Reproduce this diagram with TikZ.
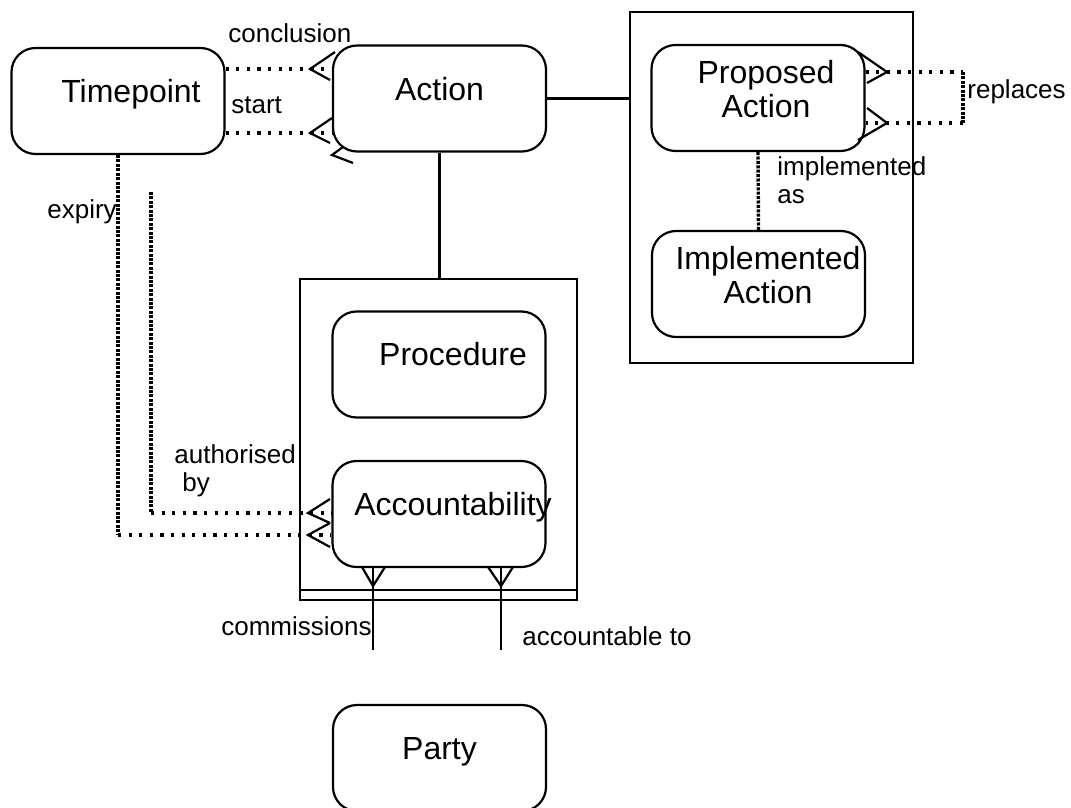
\documentclass[tikz,border=0pt]{standalone}
\usepackage{fontspec}
\setmainfont{Liberation Sans}
\usepackage{tikz}

\begin{document}
\begin{tikzpicture}[x=0.5pt,y=-0.5pt,
    ent/.style={rounded corners=12pt, draw, line width=1.1pt, minimum width=106.5pt, minimum height=53pt, inner sep=0pt},
    txt/.style={font=\fontsize{16}{17}\selectfont, align=center, inner sep=0pt},
    lbl/.style={font=\fontsize{13}{14}\selectfont, align=left, inner sep=0pt},
    grp/.style={draw, line width=1.1pt, inner sep=0pt},
    rel/.style={line width=1.1pt},
    foot/.style={line width=1.1pt, line join=miter},
    dotsh/.style={line width=1.6pt, dash pattern=on 1.6pt off 3.7pt},
    dotsv/.style={line width=1.7pt, dash pattern=on 1.5pt off 0.7pt}]
    \useasboundingbox (0,0) rectangle (1071,808);

    % groups
    \node[grp, minimum width=141.5pt, minimum height=175.5pt] (grpa) at (771.5,187.5) {};
    \node[grp, minimum width=138.5pt, minimum height=160.5pt] (grpb) at (438.5,439.5) {};
    \draw[rel] ([yshift=5.5pt]grpb.south west) -- ([yshift=5.5pt]grpb.south east);

    % entities
    \node[ent, label={[txt, xshift=6.5pt, yshift=3.5pt]center:Timepoint}] (tp) at (118,101) {};
    \node[ent, label={[txt, yshift=4.5pt]center:Action}] (act) at (439.5,98.5) {};
    \node[ent, label={[txt, xshift=4pt, yshift=4.25pt]center:Proposed\\Action}] (prop) at (758,98) {};
    \node[ent, label={[txt, xshift=4.75pt, yshift=4.5pt]center:Implemented\\Action}] (impl) at (758.5,284) {};
    \node[ent, label={[txt, xshift=7pt, yshift=5pt]center:Procedure}] (proc) at (439,364.5) {};
    \node[ent, label={[txt, xshift=7pt, yshift=3.5pt]center:Accountability}] (acc) at (439,514) {};
    \node[ent, label={[txt, yshift=3pt]center:Party}] (party) at (439.5,758) {};

    % plain links
    \draw[rel] (act.east) -- (act.east -| grpa.west);
    \draw[rel] (act.south) -- (act.south |- grpb.north);
    \draw[dotsv] (prop.south) -- (impl.north);

    % conclusion and start
    \coordinate (cfcon) at (310,69);
    \coordinate (cfsta) at (310,133);
    \draw[dotsh] (tp.east |- cfcon) -- (act.west |- cfcon);
    \draw[dotsh] (tp.east |- cfsta) -- (act.west |- cfsta);
    \draw[foot] (cfcon) ++(25,-17) -- (cfcon) -- ++(20,11);
    \draw[foot] (cfsta) ++(22,-15) -- (cfsta) -- ++(20,10);
    \coordinate (cfodd) at (332,155);
    \draw[foot] (cfodd) ++(11,-8) -- (cfodd) -- ++(21,8);

    % replaces
    \coordinate (cfrepa) at (887,72);
    \coordinate (cfrepb) at (887,123);
    \coordinate (repx) at (963,0);
    \draw[dotsh] (prop.east |- cfrepa) -- (cfrepa -| repx);
    \draw[dotsv] (cfrepa -| repx) -- (cfrepb -| repx);
    \draw[dotsh] (cfrepb -| repx) -- (prop.east |- cfrepb);
    \draw[foot] (cfrepa) ++(-29,-20) -- (cfrepa) -- ++(-20,11);
    \draw[foot] (cfrepb) ++(-20,-15) -- (cfrepb) -- ++(-29,17);

    % expiry and authorised by
    \coordinate (cfauth) at (308,513);
    \coordinate (cfexp) at (308,535);
    \coordinate (authtop) at (151,192);
    \draw[dotsv] (tp.south) -- (tp.south |- cfexp);
    \draw[dotsh] (tp.south |- cfexp) -- (acc.west |- cfexp);
    \draw[dotsv] (authtop) -- (authtop |- cfauth);
    \draw[dotsh] (authtop |- cfauth) -- (acc.west |- cfauth);
    \draw[foot] (cfauth) ++(22,-14) -- (cfauth) -- ++(22,10);
    \draw[foot] (cfexp) ++(22,-12) -- (cfexp) -- ++(22,12);

    % commissions and accountable to
    \coordinate (comend) at (373,650);
    \coordinate (accend) at (501,650);
    \coordinate (cfcom) at (373,586);
    \coordinate (cfacc) at (501,586);
    \draw[rel] (acc.south -| comend) -- (comend);
    \draw[rel] (acc.south -| accend) -- (accend);
    \draw[foot] (cfcom) ++(-11,-19) -- (cfcom) -- ++(12,-19);
    \draw[foot] (cfacc) ++(-13,-19) -- (cfacc) -- ++(12,-19);

    % labels
    \node[lbl, anchor=base west] (lcon) at (228,43) {conclusion};
    \node[lbl, anchor=base west] (lsta) at (231,113) {start};
    \node[lbl, anchor=base west] (lexp) at (47,219) {expiry};
    \node[lbl, anchor=north west] (laut) at (174,444) {authorised\\\hspace*{4pt}by};
    \node[lbl, anchor=north west] (limp) at (777,156) {implemented\\as};
    \node[lbl, anchor=base west] (lrep) at (967,98) {replaces};
    \node[lbl, anchor=base east] (lcom) at (372,635) {commissions};
    \node[lbl, anchor=base west] (lacc) at (522,645) {accountable to};
\end{tikzpicture}
\end{document}
